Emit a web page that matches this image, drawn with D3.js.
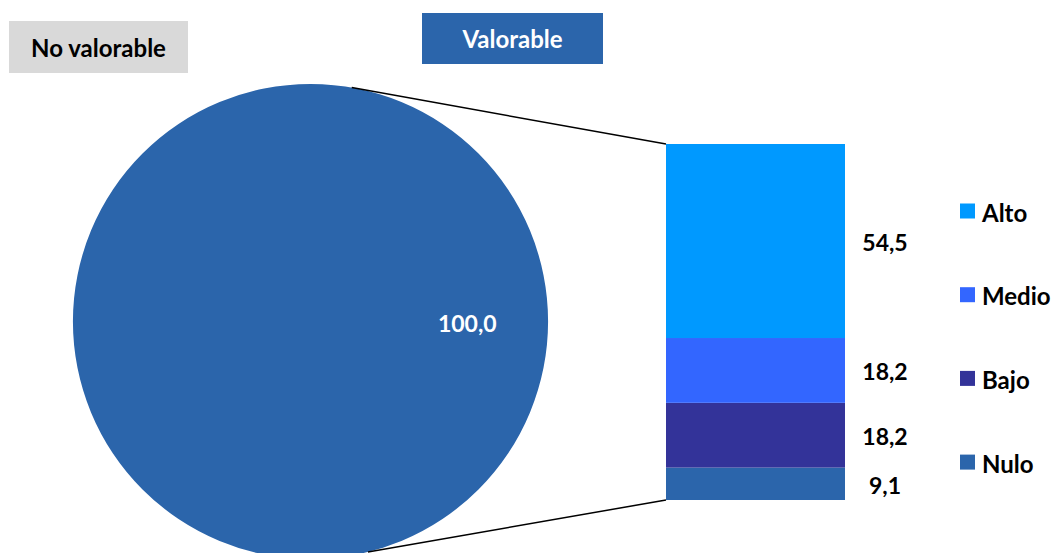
<!DOCTYPE html>
<html>
<head>
<meta charset="utf-8">
<script src="https://cdn.jsdelivr.net/npm/d3@7"></script>
<style>
  html, body { margin: 0; padding: 0; background: #fff; }
  svg { display: block; }
  text { font-family: Lato, "Open Sans", sans-serif; font-weight: bold; }
</style>
</head>
<body>
<svg id="chart" width="1054" height="553"></svg>
<script>
// Pie: share of "Valorable" within the total
const pieCategories = ["Valorable"];
const pieValues = [100.0];

// Bar: breakdown of "Valorable" (bottom to top)
const barCategories = ["Nulo", "Bajo", "Medio", "Alto"];
const barValues = [9.1, 18.2, 18.2, 54.5];

// Legend order (top to bottom)
const legendCategories = ["Alto", "Medio", "Bajo", "Nulo"];

const headerLabels = ["No valorable", "Valorable"];

const colors = {
  Valorable: "#2B65AB",
  Alto: "#0099FF",
  Medio: "#3366FF",
  Bajo: "#333399",
  Nulo: "#2B65AB"
};

const fmt = v => d3.format(".1f")(v).replace(".", ",");
const textSize = 24, numSize = 23;

const svg = d3.select("#chart");

// ---- header boxes ----
const headers = [
  { text: headerLabels[0], x: 9, y: 21, w: 179, h: 52, fill: "#D9D9D9", color: "#000" },
  { text: headerLabels[1], x: 422, y: 13, w: 181, h: 51, fill: "#2B65AB", color: "#fff" }
];
const hg = svg.selectAll("g.header").data(headers).join("g").attr("class", "header");
hg.append("rect")
  .attr("x", d => d.x).attr("y", d => d.y)
  .attr("width", d => d.w).attr("height", d => d.h)
  .attr("fill", d => d.fill);
hg.append("text")
  .attr("x", d => d.x + d.w / 2).attr("y", d => d.y + d.h / 2)
  .attr("text-anchor", "middle").attr("dominant-baseline", "central")
  .attr("font-size", textSize).attr("fill", d => d.color)
  .text(d => d.text);

// ---- pie ----
const cx = 310.5, cy = 321.5, r = 237.5;
const pie = d3.pie().sort(null);
const arc = d3.arc().innerRadius(0).outerRadius(r);
const pg = svg.append("g").attr("transform", `translate(${cx},${cy})`);
pg.selectAll("path").data(pie(pieValues)).join("path")
  .attr("d", arc)
  .attr("fill", (d, i) => colors[pieCategories[i]]);
pg.selectAll("text.pielabel").data(pie(pieValues)).join("text")
  .attr("class", "pielabel")
  .attr("x", r * 0.66).attr("y", 1)
  .attr("text-anchor", "middle").attr("dominant-baseline", "central")
  .attr("font-size", numSize).attr("fill", "#fff")
  .text(d => fmt(d.data));

// ---- stacked bar ----
const barX = 666, barW = 179;
const y = d3.scaleLinear().domain([0, d3.sum(barValues)]).range([500, 144]);
let acc = 0;
const segs = barValues.map((v, i) => {
  const s = { cat: barCategories[i], v, y0: acc, y1: acc + v };
  acc += v;
  return s;
});
svg.append("g").selectAll("rect").data(segs).join("rect")
  .attr("x", barX).attr("width", barW)
  .attr("y", d => y(d.y1))
  .attr("height", d => y(d.y0) - y(d.y1))
  .attr("fill", d => colors[d.cat]);

svg.append("g").selectAll("text").data(segs).join("text")
  .attr("x", 885)
  .attr("y", d => (y(d.y0) + y(d.y1)) / 2 + 1)
  .attr("text-anchor", "middle").attr("dominant-baseline", "central")
  .attr("font-size", numSize).attr("fill", "#000")
  .text(d => fmt(d.v));

// ---- connector lines from pie edge to bar corners ----
const topPt = d3.pointRadial(10 * Math.PI / 180, r);
const botPt = d3.pointRadial(166 * Math.PI / 180, r);
const conns = [
  { x1: cx + topPt[0], y1: cy + topPt[1], x2: barX, y2: y(d3.sum(barValues)) },
  { x1: cx + botPt[0], y1: cy + botPt[1], x2: barX, y2: y(0) }
];
svg.append("g").selectAll("line").data(conns).join("line")
  .attr("x1", d => d.x1).attr("y1", d => d.y1)
  .attr("x2", d => d.x2).attr("y2", d => d.y2)
  .attr("stroke", "#000").attr("stroke-width", 1.5);

// ---- legend ----
const lg = svg.append("g").selectAll("g").data(legendCategories).join("g")
  .attr("transform", (d, i) => `translate(960, ${211 + i * 83.7})`);
lg.append("rect")
  .attr("x", 0).attr("y", -7.5).attr("width", 15).attr("height", 15)
  .attr("fill", d => colors[d]);
lg.append("text")
  .attr("x", 22).attr("y", 1)
  .attr("dominant-baseline", "central")
  .attr("font-size", textSize).attr("fill", "#000")
  .text(d => d);
</script>
</body>
</html>
